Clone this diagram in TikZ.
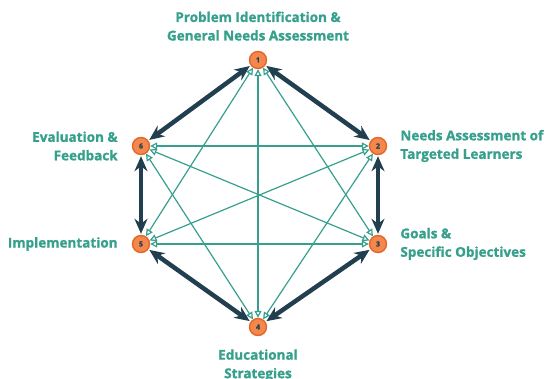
\documentclass[tikz,border=0pt]{standalone}
\usepackage{fontspec}
\setmainfont{Open Sans}[BoldFont={* Bold},BoldFeatures={FakeBold=1.2}]
\usetikzlibrary{arrows.meta}
\usetikzlibrary{positioning}
\definecolor{stepteal}{HTML}{36A08D}
\definecolor{stepdark}{HTML}{213F4E}
\definecolor{steporange}{HTML}{F4874B}
\definecolor{stepring}{HTML}{E2672C}

\begin{document}
\begin{tikzpicture}[x=1pt,y=-1pt]
        \tikzstyle{step node}=[circle,fill=steporange,draw=stepring,line width=1.4pt,minimum size=17pt,inner sep=0pt,text=stepdark,font=\fontsize{7}{7}\selectfont\bfseries]
        \tikzstyle{step label}=[text=stepteal,inner sep=0pt,font=\fontsize{13.5}{18.5}\selectfont\bfseries]
        \tikzstyle{thin link}=[stepteal,line width=1.2pt,{Triangle[open,length=7pt,width=7pt]}-{Triangle[open,length=7pt,width=7pt]}]
        \tikzstyle{thick link}=[stepdark,line width=4.5pt,{Stealth[length=15pt,width=13pt]}-{Stealth[length=15pt,width=13pt]},shorten <=1pt,shorten >=1pt]

        \useasboundingbox (0,0) rectangle (554,379);

        \foreach \n / \x / \y in {1/258/60,2/378/146,3/378/244,4/258/327,5/141/244,6/141/146} {
            \node[step node] (n_\n) at (\x,\y) {\n};
        }

        \node[step label,align=center,above=10pt of n_1] (l_1) {Problem Identification \&\\General Needs Assessment};
        \node[step label,align=left,right=13pt of n_2] (l_2) {Needs Assessment of\\Targeted Learners};
        \node[step label,align=left,right=13pt of n_3] (l_3) {Goals \&\\Specific Objectives};
        \node[step label,align=center,below=13pt of n_4] (l_4) {Educational\\Strategies};
        \node[step label,align=right,left=14pt of n_5] (l_5) {Implementation};
        \node[step label,align=right,left=14pt of n_6] (l_6) {Evaluation \&\\Feedback};

        \foreach \a / \b in {1/3,1/4,1/5,2/4,2/5,2/6,3/5,3/6,4/6} {
            \draw[thin link] (n_\a) -- (n_\b);
        }
        \foreach \a / \b in {1/2,2/3,3/4,4/5,5/6,6/1} {
            \draw[thick link] (n_\a) -- (n_\b);
        }

\end{tikzpicture}
\end{document}
